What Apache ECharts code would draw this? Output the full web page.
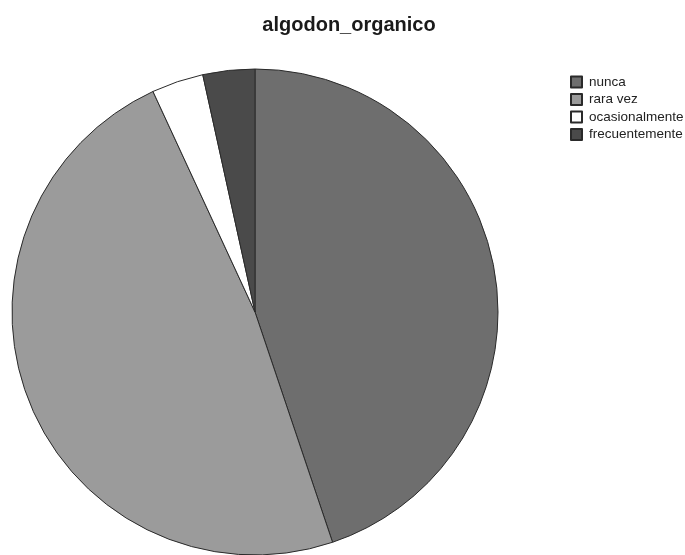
<!DOCTYPE html>
<html>
<head>
<meta charset="utf-8">
<script src="https://cdn.jsdelivr.net/npm/echarts@6/dist/echarts.min.js"></script>
<style>
  html, body { margin: 0; padding: 0; background: #fff; }
  #chart { width: 685px; height: 555px; }
</style>
</head>
<body>
<div id="chart"></div>
<script>
// Response categories and their counts
const categories = ['nunca', 'rara vez', 'ocasionalmente', 'frecuentemente'];
const counts = [13, 14, 1, 1];
const sliceColors = ['#6e6e6e', '#9b9b9b', '#ffffff', '#4a4a4a'];

const chart = echarts.init(document.getElementById('chart'));

chart.setOption({
  animation: false,
  backgroundColor: '#ffffff',
  title: {
    text: 'algodon_organico',
    left: 344,
    top: 10,
    textAlign: 'center',
    textStyle: {
      fontFamily: 'Liberation Sans, Arial, sans-serif',
      fontSize: 20,
      fontWeight: 'bold',
      color: '#1a1a1a'
    }
  },
  legend: {
    orient: 'vertical',
    left: 570,
    top: 75,
    padding: 0,
    icon: 'rect',
    itemWidth: 11,
    itemHeight: 11,
    itemGap: 3.5,
    selectedMode: false,
    data: categories,
    textStyle: {
      fontFamily: 'Liberation Sans, Arial, sans-serif',
      fontSize: 13.5,
      lineHeight: 11,
      color: '#222',
      padding: [0, 0, 0, 2]
    }
  },
  series: [{
    type: 'pie',
    center: [255, 312],
    radius: 243,
    startAngle: 90,
    clockwise: true,
    label: { show: false },
    labelLine: { show: false },
    emphasis: { disabled: true },
    itemStyle: { borderColor: '#2a2a2a', borderWidth: 1 },
    data: categories.map((name, i) => ({
      name: name,
      value: counts[i],
      itemStyle: { color: sliceColors[i] }
    }))
  }]
});
</script>
</body>
</html>
